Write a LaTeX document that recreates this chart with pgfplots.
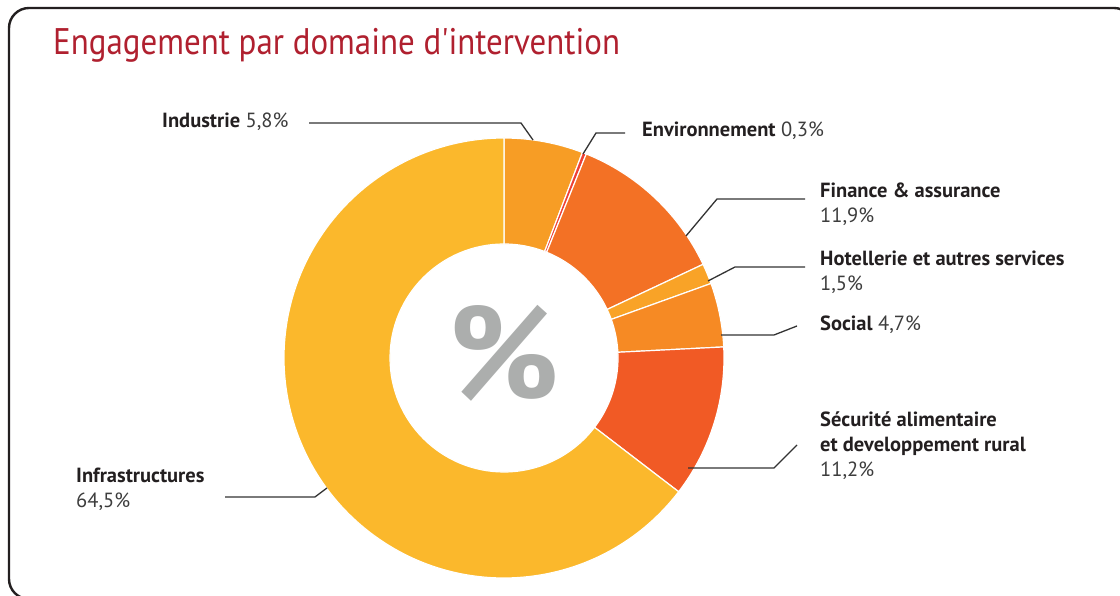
\documentclass[border=0pt]{standalone}
\usepackage{pgfplots}
\pgfplotsset{compat=1.18}
\usepackage{fontspec}
\setmainfont{PT Sans}
\newfontfamily\titlefont{PT Sans}[FakeStretch=0.89]
\newfontfamily\bigpct{PT Sans}
\definecolor{framec}{HTML}{231F20}
\definecolor{titlec}{HTML}{B0202F}
\definecolor{txt}{HTML}{231F20}
\definecolor{pctc}{HTML}{3D3D3D}
\definecolor{linec}{HTML}{333333}
\definecolor{cInd}{HTML}{F79D25}
\definecolor{cEnv}{HTML}{EE4035}
\definecolor{cFin}{HTML}{F37125}
\definecolor{cHot}{HTML}{F9A327}
\definecolor{cSoc}{HTML}{F68A24}
\definecolor{cSec}{HTML}{F15A25}
\definecolor{cInf}{HTML}{FBB82C}
\definecolor{grayp}{HTML}{ACAEAD}
% slice: start (cumulative %), end (cumulative %), colour
\newcommand{\donutslice}[3]{%
  \filldraw[fill=#3, draw=white, line width=1.2pt]
    ([shift={({90-3.6*(#1)}:220pt)}]C)
    arc[start angle={90-3.6*(#1)}, end angle={90-3.6*(#2)}, radius=220pt]
    -- ([shift={({90-3.6*(#2)}:114pt)}]C)
    arc[start angle={90-3.6*(#2)}, end angle={90-3.6*(#1)}, radius=114pt]
    -- cycle;}
\begin{document}
\begin{tikzpicture}[x=1pt,y=1pt]
\useasboundingbox (0,0) rectangle (1120,596);
\clip (0,0) rectangle (1120,596);
\fill[white] (0,0) rectangle (1120,596);
\draw[line width=2.4pt, color=framec, rounded corners=20pt] (9,-3) rectangle (1134,588);
\begin{axis}[at={(0,0)}, anchor=south west, x=1pt, y=1pt,
  xmin=0, xmax=1120, ymin=0, ymax=596, hide axis, clip=false]
\coordinate (C) at (axis cs:504,238);
% values: Industrie 5.8, Environnement 0.3, Finance 11.9, Hotellerie 1.5,
% Social 4.7, Securite 11.2, Infrastructures 64.5
\donutslice{0}{5.8}{cInd}
\donutslice{5.8}{6.1}{cEnv}
\donutslice{6.1}{18.0}{cFin}
\donutslice{18.0}{19.5}{cHot}
\donutslice{19.5}{24.2}{cSoc}
\donutslice{24.2}{35.4}{cSec}
\donutslice{35.4}{100}{cInf}
% centre percent sign
\node[anchor=base, inner sep=0pt, text=grayp, font=\bigpct\bfseries\fontsize{132}{132}\selectfont] at (axis cs:504,196) {\%};
% title
\node[anchor=base west, inner sep=0pt, text=titlec, font=\titlefont\fontsize{37}{40}\selectfont] at (axis cs:53,541) {Engagement par domaine d'intervention};
% leader lines
\begin{scope}[linec, line width=1.3pt]
\draw (axis cs:309,473) -- (axis cs:521,473) -- (axis cs:533,456);
\draw (axis cs:583,442) -- (axis cs:596,463) -- (axis cs:625,463);
\draw (axis cs:686,360) -- (axis cs:717,397) -- (axis cs:805,397);
\draw (axis cs:708,315) -- (axis cs:735,329) -- (axis cs:805,329);
\draw (axis cs:721,261) -- (axis cs:774,261) -- (axis cs:797,270);
\draw (axis cs:688,128) -- (axis cs:774,128) -- (axis cs:797,151);
\draw (axis cs:225,99) -- (axis cs:315,99) -- (axis cs:327,108);
\end{scope}
% labels
\begin{scope}[every node/.style={anchor=base west, inner sep=0pt, text=txt, font=\fontsize{20.5}{25}\selectfont}]
\node at (axis cs:162,468) {\textbf{Industrie} \textcolor{pctc}{5,8\%}};
\node at (axis cs:642,459) {\textbf{Environnement} \textcolor{pctc}{0,3\%}};
\node at (axis cs:820,398) {\textbf{Finance \& assurance}};
\node at (axis cs:820,373) {\textcolor{pctc}{11,9\%}};
\node at (axis cs:820,330) {\textbf{Hotellerie et autres services}};
\node at (axis cs:820,305) {\textcolor{pctc}{1,5\%}};
\node at (axis cs:820,265) {\textbf{Social} \textcolor{pctc}{4,7\%}};
\node at (axis cs:820,169) {\textbf{Sécurité alimentaire}};
\node at (axis cs:820,144) {\textbf{et developpement rural}};
\node at (axis cs:820,119) {\textcolor{pctc}{11,2\%}};
\node at (axis cs:76,113) {\textbf{Infrastructures}};
\node at (axis cs:76,88) {\textcolor{pctc}{64,5\%}};
\end{scope}
\end{axis}
\end{tikzpicture}
\end{document}
